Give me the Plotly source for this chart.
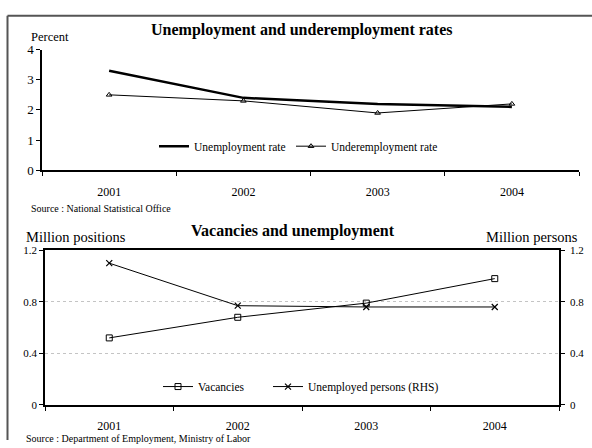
import plotly.graph_objects as go

W, H = 592, 448

years = ["2001", "2002", "2003", "2004"]
unemployment_rate = [3.3, 2.4, 2.2, 2.1]
underemployment_rate = [2.5, 2.3, 1.9, 2.2]
vacancies = [0.52, 0.68, 0.79, 0.98]
unemployed_persons = [1.10, 0.77, 0.76, 0.76]

SERIF = "Liberation Serif"
INK = "black"


def px_x(x):
    return x / W


def px_y(y):
    return 1 - y / H


fig = go.Figure()

# Top panel: rates in percent
fig.add_trace(go.Scatter(
    x=years, y=unemployment_rate, name="Unemployment rate",
    mode="lines", line=dict(color=INK, width=2.5),
    xaxis="x", yaxis="y", legend="legend",
))
fig.add_trace(go.Scatter(
    x=years, y=underemployment_rate, name="Underemployment rate",
    mode="lines+markers", line=dict(color=INK, width=1),
    marker=dict(symbol="triangle-up-open", size=5, color=INK, line=dict(width=1)),
    xaxis="x", yaxis="y", legend="legend2",
))

# Bottom panel: vacancies (LHS) and unemployed persons (RHS)
fig.add_trace(go.Scatter(
    x=years, y=vacancies, name="Vacancies",
    mode="lines+markers", line=dict(color=INK, width=1),
    marker=dict(symbol="square-open", size=6, color=INK, line=dict(width=1)),
    xaxis="x2", yaxis="y2", legend="legend3",
))
fig.add_trace(go.Scatter(
    x=years, y=unemployed_persons, name="Unemployed persons (RHS)",
    mode="lines+markers", line=dict(color=INK, width=1),
    marker=dict(symbol="x-thin-open", size=6, color=INK, line=dict(width=1.2)),
    xaxis="x2", yaxis="y3", legend="legend4",
))


def axis_style(size):
    return dict(
        showline=True, linecolor=INK, linewidth=1.5,
        ticks="outside", tickcolor=INK, ticklen=4, tickwidth=1,
        tickfont=dict(family=SERIF, size=size, color=INK),
        zeroline=False, fixedrange=True,
    )


cat_range = [-0.5, len(years) - 0.5]
rhs_ticks = [0, 0.4, 0.8, 1.2]
rhs_text = ["0", "0.4", "0.8", "1.2"]


def legend_box(x, y):
    return dict(
        x=px_x(x), y=px_y(y), xanchor="left", yanchor="middle",
        font=dict(family=SERIF, size=11.5, color=INK), bgcolor="rgba(0,0,0,0)",
        itemwidth=30, entrywidth=0,
    )


fig.update_layout(
    width=W, height=H,
    margin=dict(l=0, r=0, t=0, b=0),
    paper_bgcolor="white", plot_bgcolor="white",
    font=dict(family=SERIF, color=INK),
    xaxis=dict(
        domain=[px_x(42), px_x(579)], anchor="y", range=cat_range,
        type="category", tickson="boundaries", showgrid=False,
        ticklabelstandoff=10,
        **axis_style(12),
    ),
    yaxis=dict(
        domain=[px_y(169), px_y(44)], anchor="x",
        range=[0, 4], tickvals=[0, 1, 2, 3, 4], showgrid=False,
        **axis_style(13),
    ),
    xaxis2=dict(
        domain=[px_x(45), px_x(559)], anchor="y2", range=cat_range,
        type="category", tickson="boundaries", showgrid=False,
        mirror=True, ticklabelstandoff=9,
        **axis_style(12),
    ),
    yaxis2=dict(
        domain=[px_y(411.7), px_y(251.7)], anchor="x2",
        range=[0, 1.2], tickvals=rhs_ticks, ticktext=rhs_text,
        showgrid=True, gridcolor="#c4c4c4", griddash="3px,3px", gridwidth=1,
        mirror=True,
        **axis_style(11),
    ),
    yaxis3=dict(
        overlaying="y2", side="right", anchor="x2",
        range=[0, 1.2], tickvals=rhs_ticks, ticktext=rhs_text,
        showgrid=False, ticklabelstandoff=3,
        **axis_style(11),
    ),
    legend=legend_box(154, 144),
    legend2=legend_box(291, 144),
    legend3=legend_box(158, 392.7),
    legend4=legend_box(268, 392.7),
    showlegend=True,
)

annotations = [
    dict(text="<b>Unemployment and underemployment rates</b>", x=px_x(301), y=px_y(24),
         font=dict(size=16)),
    dict(text="Percent", x=px_x(29), y=px_y(31), xanchor="left", font=dict(size=12.5)),
    dict(text="Source : National Statistical Office", x=px_x(29), y=px_y(208),
         xanchor="left", font=dict(size=10)),
    dict(text="<b>Vacancies and unemployment</b>", x=px_x(293), y=px_y(232),
         font=dict(size=16)),
    dict(text="Million positions", x=px_x(24), y=px_y(238), xanchor="left",
         font=dict(size=14.5)),
    dict(text="Million persons", x=px_x(580), y=px_y(238), xanchor="right",
         font=dict(size=14.5)),
    dict(text="Source : Department of Employment, Ministry of Labor", x=px_x(24),
         y=px_y(446), xanchor="left", font=dict(size=10)),
]
for a in annotations:
    a.setdefault("xanchor", "center")
    a.setdefault("yanchor", "middle")
    a["font"] = dict(family=SERIF, color=INK, **a["font"])
    fig.add_annotation(xref="paper", yref="paper", showarrow=False, **a)

# Outer frame: left and top edges
frame = dict(type="line", xref="paper", yref="paper", line=dict(color="#555555", width=2))
fig.add_shape(x0=px_x(7.5), x1=px_x(7.5), y0=0, y1=px_y(9), **frame)
fig.add_shape(x0=px_x(7.5), x1=1, y0=px_y(9), y1=px_y(9), **frame)

fig.write_html("out.html")
